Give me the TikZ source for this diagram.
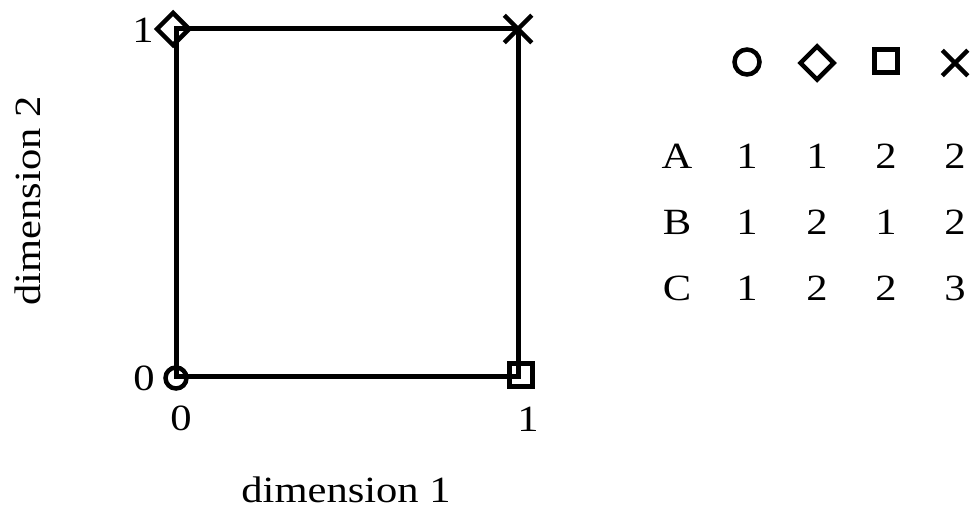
\documentclass[tikz,border=0pt]{standalone}
\usepackage{fontspec}
\setmainfont{Liberation Serif}[FakeStretch=1.15]
\usetikzlibrary{shapes.geometric,shapes.misc}

\tikzset{
  mk/.style={draw, line width=4.5pt, inner sep=0pt},
  circmk/.style={mk, circle, minimum size=#1},
  diammk/.style={mk, diamond, minimum size=#1},
  sqmk/.style={mk, rectangle, minimum size=#1},
  crossmk/.style={mk, cross out, minimum size=#1},
  lbl/.style={inner sep=0pt}
}

\begin{document}
\begin{tikzpicture}[x=1pt, y=-1pt, font=\fontsize{37}{42}\selectfont]
\useasboundingbox (0,0) rectangle (979,511);
% corners of the unit square
\coordinate (p00) at (176,376);
\coordinate (p10) at (518,376);
\coordinate (p11) at (518,29);
\coordinate (p01) at (176,29);
\draw[line width=5pt] (p00) -- (p10) -- (p11) -- (p01) -- cycle;
% markers on the corners
\node[circmk=21pt] (m00) at ([yshift=-2pt]p00) {};
\node[sqmk=23pt] (m10) at ([xshift=3pt,yshift=1pt]p10) {};
\node[crossmk=23pt] (m11) at (p11) {};
\node[diammk=34pt] (m01) at ([xshift=-3pt]p01) {};
% axis labels
\node[lbl] (y1) at (143,30) {1};
\node[lbl] (y0) at (144,378) {0};
\node[lbl] (x0) at (181,418) {0};
\node[lbl] (x1) at (528,419) {1};
\node[lbl] (xlab) at (346,490) {dimension 1};
\node[lbl, rotate=90] (ylab) at (28,201) {dimension 2};
% legend
\node[circmk=25pt] (lc) at (747,62) {};
\node[diammk=35pt] (ld) at (817,63) {};
\node[sqmk=23pt] (ls) at (886,61) {};
\node[crossmk=21pt] (lx) at (955,63) {};
% table
\node[lbl] (ra) at (677,156) {A};
\node[lbl] (rb) at (677,222) {B};
\node[lbl] (rc) at (677,288) {C};
\foreach \r/\y/\a/\b/\c/\d in {a/156/1/1/2/2, b/222/1/2/1/2, c/288/1/2/2/3} {
  \node[lbl] (\r1) at (747,\y) {\a};
  \node[lbl] (\r2) at (817,\y) {\b};
  \node[lbl] (\r3) at (886,\y) {\c};
  \node[lbl] (\r4) at (955,\y) {\d};
}
\end{tikzpicture}
\end{document}
